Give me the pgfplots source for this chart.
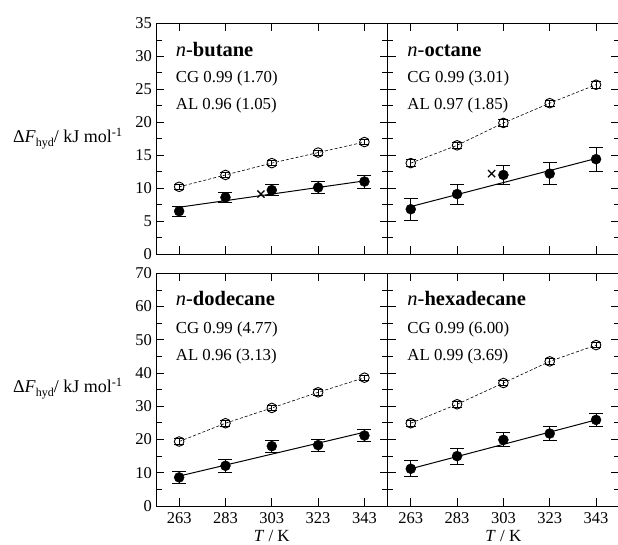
\documentclass[border=0pt]{standalone}
\usepackage{fontspec}
\setmainfont{Liberation Serif}
\usepackage{pgfplots}
\pgfplotsset{compat=1.18}

\pgfplotsset{
  panel/.style={
    scale only axis, width=231.6pt,
    xmin=253, xmax=353,
    xtick={263,283,303,323,343},
    tick align=inside, tick pos=both,
    major tick length=8pt, minor tick length=5.5pt,
    minor x tick num=0,
    axis line style={line width=0.8pt},
    every tick/.style={line width=0.8pt, black},
    /pgf/number format/assume math mode=true,
    ticklabel style={font=\fontsize{16.5}{16.5}\selectfont},
    xticklabel style={anchor=north, inner sep=0pt, yshift=-6.5pt},
    yticklabel style={anchor=east, inner sep=0pt, xshift=-4pt},
    clip=false,
  },
  top/.style={panel, height=230.5pt, ymin=0, ymax=35, ytick={0,5,...,35}, minor y tick num=1, xticklabels={}},
  bot/.style={panel, height=232.7pt, ymin=0, ymax=70, ytick={0,10,...,70}, minor y tick num=1},
  fitline/.style={black, line width=1pt, no marks, forget plot},
  cg/.style={black, dashed, dash pattern=on 3pt off 2pt, line width=0.6pt,
    mark=o, mark size=4.8pt, mark options={solid, line width=0.9pt},
    error bars/.cd, y dir=both, y explicit,
    error bar style={solid, line width=0.7pt},
    error mark options={rotate=90, mark size=5pt, line width=0.7pt}},
  al/.style={black, only marks, mark=*, mark size=5pt,
    error bars/.cd, y dir=both, y explicit,
    error bar style={line width=0.8pt},
    error mark options={rotate=90, mark size=7pt, line width=0.8pt}},
  cross/.style={black, only marks, mark=x, mark size=5pt, mark options={line width=1.3pt}},
}
\newcommand{\ttl}[1]{\fontsize{20.5}{20.5}\selectfont\textit{n}-\textbf{#1}}
\newcommand{\stat}{\fontsize{16.8}{16.8}\selectfont}
\newcommand{\ylab}{\fontsize{18}{18}\selectfont Δ\textit{F}\raisebox{-0.45ex}{\fontsize{12}{12}\selectfont hyd}/ kJ mol\textsuperscript{-1}}
\newcommand{\xlab}{\fontsize{17}{17}\selectfont\textit{T} / K}

\begin{document}
\begin{tikzpicture}
\path[use as bounding box] (0,0) rectangle (618pt,545pt);

% n-butane
\begin{axis}[top, at={(156pt,291pt)}, anchor=south west]
  \addplot[fitline] coordinates {(263,7.1) (343,11.1)};
  \addplot[cg] coordinates {
    (263,10.2) +- (0,0.4) (283,12.0) +- (0,0.4) (303,13.8) +- (0,0.4)
    (323,15.4) +- (0,0.4) (343,17.0) +- (0,0.4)};
  \addplot[al] coordinates {
    (263,6.5) +- (0,0.8) (283,8.6) +- (0,0.8) (303,9.7) +- (0,0.85)
    (323,10.1) +- (0,0.95) (343,11.0) +- (0,1.0)};
  \addplot[cross] coordinates {(298.3,9.1)};
  \node[anchor=base west, inner sep=0pt] at (rel axis cs:0.085,0.856) {\ttl{butane}};
  \node[anchor=base west, inner sep=0pt] at (rel axis cs:0.085,0.742) {\stat CG 0.99 (1.70)};
  \node[anchor=base west, inner sep=0pt] at (rel axis cs:0.085,0.629) {\stat AL 0.96 (1.05)};
  \node[anchor=base east, inner sep=0pt] at (rel axis cs:-0.1425,0.4816) {\ylab};
\end{axis}

% n-octane
\begin{axis}[top, yticklabels={}, at={(387.6pt,291pt)}, anchor=south west]
  \addplot[fitline] coordinates {(263,7.2) (343,14.5)};
  \addplot[cg] coordinates {
    (263,13.8) +- (0,0.5) (283,16.5) +- (0,0.5) (303,19.9) +- (0,0.5)
    (323,22.9) +- (0,0.5) (343,25.7) +- (0,0.5)};
  \addplot[al] coordinates {
    (263,6.8) +- (0,1.7) (283,9.1) +- (0,1.5) (303,12.0) +- (0,1.5)
    (323,12.2) +- (0,1.7) (343,14.4) +- (0,1.8)};
  \addplot[cross] coordinates {(297.9,12.2)};
  \node[anchor=base west, inner sep=0pt] at (rel axis cs:0.085,0.856) {\ttl{octane}};
  \node[anchor=base west, inner sep=0pt] at (rel axis cs:0.085,0.742) {\stat CG 0.99 (3.01)};
  \node[anchor=base west, inner sep=0pt] at (rel axis cs:0.085,0.629) {\stat AL 0.97 (1.85)};
\end{axis}

% n-dodecane
\begin{axis}[bot, at={(156pt,39pt)}, anchor=south west]
  \addplot[fitline] coordinates {(263,9.0) (343,22.2)};
  \addplot[cg] coordinates {
    (263,19.4) +- (0,0.8) (283,24.9) +- (0,0.8) (303,29.5) +- (0,0.8)
    (323,34.2) +- (0,0.8) (343,38.6) +- (0,0.8)};
  \addplot[al] coordinates {
    (263,8.6) +- (0,1.9) (283,12.1) +- (0,1.9) (303,18.0) +- (0,1.8)
    (323,18.3) +- (0,1.8) (343,21.2) +- (0,1.9)};
  \node[anchor=base west, inner sep=0pt] at (rel axis cs:0.085,0.862) {\ttl{dodecane}};
  \node[anchor=base west, inner sep=0pt] at (rel axis cs:0.085,0.742) {\stat CG 0.99 (4.77)};
  \node[anchor=base west, inner sep=0pt] at (rel axis cs:0.085,0.627) {\stat AL 0.96 (3.13)};
  \node[anchor=base east, inner sep=0pt] at (rel axis cs:-0.1425,0.4856) {\ylab};
  \node[anchor=base, inner sep=0pt] at (rel axis cs:0.5,-0.153) {\xlab};
\end{axis}

% n-hexadecane
\begin{axis}[bot, yticklabels={}, at={(387.6pt,39pt)}, anchor=south west]
  \addplot[fitline] coordinates {(263,11.2) (343,25.9)};
  \addplot[cg] coordinates {
    (263,24.9) +- (0,0.8) (283,30.6) +- (0,0.8) (303,37.0) +- (0,0.8)
    (323,43.5) +- (0,0.8) (343,48.4) +- (0,0.8)};
  \addplot[al] coordinates {
    (263,11.2) +- (0,2.4) (283,15.0) +- (0,2.4) (303,19.9) +- (0,2.1)
    (323,21.8) +- (0,2.1) (343,25.9) +- (0,1.9)};
  \node[anchor=base west, inner sep=0pt] at (rel axis cs:0.085,0.862) {\ttl{hexadecane}};
  \node[anchor=base west, inner sep=0pt] at (rel axis cs:0.085,0.742) {\stat CG 0.99 (6.00)};
  \node[anchor=base west, inner sep=0pt] at (rel axis cs:0.085,0.627) {\stat AL 0.99 (3.69)};
  \node[anchor=base, inner sep=0pt] at (rel axis cs:0.5,-0.153) {\xlab};
\end{axis}
\end{tikzpicture}
\end{document}
